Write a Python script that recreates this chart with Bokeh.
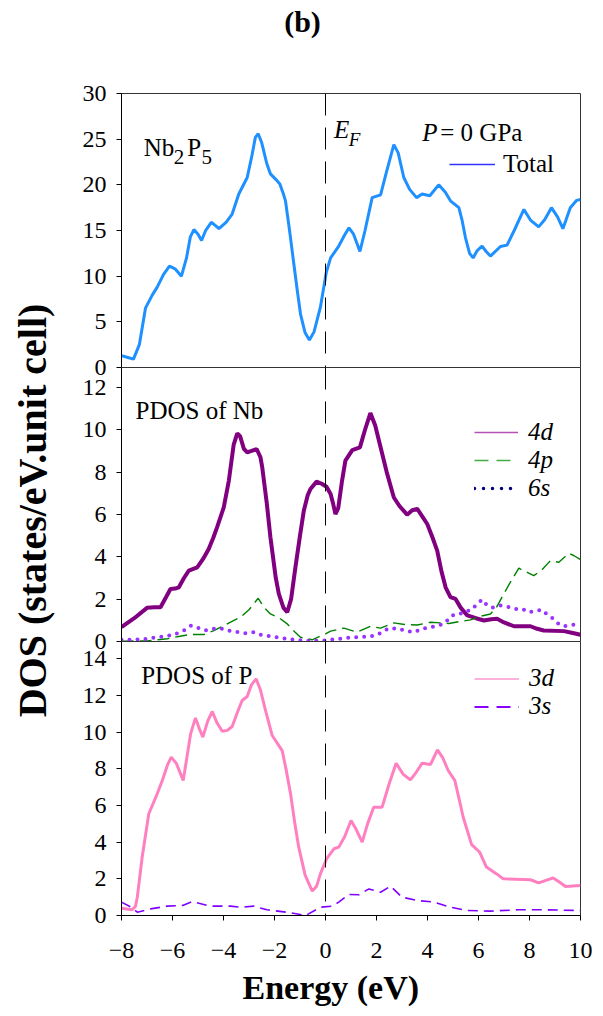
from math import pi
from bokeh.plotting import figure
from bokeh.models import Range1d, Span, Label, Legend, LegendItem, Title, FixedTicker
from bokeh.layouts import column, row
from bokeh.embed import file_html
from bokeh.resources import INLINE

FONT = "'Liberation Serif', 'Times New Roman', serif"
NAN = float("nan")

# ---------------- data ----------------
x_ticks = [-8, -6, -4, -2, 0, 2, 4, 6, 8, 10]
total_ticks = [0, 5, 10, 15, 20, 25, 30]
nb_ticks = [0, 2, 4, 6, 8, 10, 12]
p_ticks = [0, 2, 4, 6, 8, 10, 12, 14]

e_total = [-8.0, -7.75, -7.53, -7.3, -7.06, -6.8, -6.6, -6.35, -6.12, -5.9, -5.65, -5.45, -5.3, -5.16,
           -5.0, -4.86, -4.7, -4.48, -4.3, -4.18, -3.9, -3.66, -3.4, -3.07, -2.9, -2.75, -2.64, -2.5,
           -2.3, -2.16, -1.95, -1.79, -1.65, -1.57, -1.4, -1.24, -1.1, -0.98, -0.8, -0.63, -0.45, -0.2,
           0.03, 0.2, 0.52, 0.75, 0.92, 1.1, 1.35, 1.55, 1.83, 2.16, 2.4, 2.68, 2.85, 3.07, 3.3, 3.57,
           3.79, 4.09, 4.44, 4.7, 4.9, 5.23, 5.35, 5.49, 5.65, 5.79, 5.95, 6.14, 6.3, 6.47, 6.86, 7.12,
           7.4, 7.78, 8.05, 8.36, 8.6, 8.86, 9.1, 9.31, 9.6, 9.85, 10.0]
dos_total = [1.3, 1.1, 0.92, 2.5, 6.5, 7.9, 8.8, 10.2, 11.1, 10.8, 10.0, 12.0, 14.3, 15.1,
             14.6, 13.9, 15.0, 15.9, 15.5, 15.2, 15.9, 16.8, 19.0, 20.8, 23.0, 25.2, 25.6, 24.6,
             22.3, 21.2, 20.6, 20.1, 19.0, 18.25, 14.8, 11.3, 8.3, 5.85, 3.8, 3.0, 3.9, 6.6,
             10.4, 12.0, 13.3, 14.5, 15.3, 14.6, 12.7, 15.0, 18.6, 18.9, 21.5, 24.4, 23.5, 20.8, 19.5, 18.6,
             19.0, 18.8, 20.0, 19.2, 18.25, 17.5, 16.2, 14.2, 12.5, 12.0, 12.8, 13.3, 12.7, 12.2, 13.25, 13.4,
             15.0, 17.3, 16.1, 15.4, 16.2, 17.5, 16.5, 15.2, 17.5, 18.3, 18.4]

e_4d = [-8.0, -7.5, -7.0, -6.7, -6.47, -6.25, -6.08, -5.9, -5.75, -5.55, -5.36, -5.03, -4.8, -4.58,
        -4.4, -4.25, -3.99, -3.79, -3.6, -3.46, -3.35, -3.2, -3.07, -2.9, -2.7, -2.55, -2.48, -2.3,
        -2.16, -1.95, -1.83, -1.65, -1.5, -1.35, -1.18, -1.0, -0.85, -0.7, -0.59, -0.35, -0.15, 0.04,
        0.2, 0.3, 0.39, 0.5, 0.65, 0.78, 1.05, 1.35, 1.55, 1.76, 1.95, 2.16, 2.4, 2.68, 2.9, 3.2,
        3.4, 3.6, 3.8, 3.99, 4.2, 4.38, 4.55, 4.71, 4.9, 5.1, 5.3, 5.56, 5.9, 6.21, 6.5, 6.73,
        7.0, 7.39, 8.04, 8.3, 8.56, 9.35, 9.7, 10.0]
dos_4d = [0.68, 1.1, 1.59, 1.62, 1.62, 2.1, 2.48, 2.5, 2.56, 3.0, 3.35, 3.5, 3.9, 4.37,
          4.9, 5.4, 6.33, 7.6, 9.3, 9.83, 9.7, 9.1, 8.93, 9.0, 9.09, 8.7, 8.22, 6.5,
          4.92, 3.0, 2.25, 1.6, 1.38, 2.0, 3.5, 5.0, 6.18, 6.9, 7.2, 7.55, 7.45, 7.31,
          6.97, 6.5, 6.02, 6.3, 7.6, 8.54, 9.04, 9.17, 10.0, 10.79, 10.2, 9.17, 8.0, 6.8, 6.4, 5.99,
          6.2, 6.26, 5.9, 5.55, 4.9, 4.29, 3.3, 2.56, 2.1, 2.01, 1.6, 1.23, 1.1, 0.99, 1.05, 1.07,
          0.9, 0.72, 0.72, 0.6, 0.52, 0.49, 0.4, 0.32]

e_4p = [-8.0, -7.0, -6.2, -5.7, -5.3, -4.77, -4.4, -3.99, -3.33, -3.0, -2.64, -2.4, -2.16, -1.8,
        -1.5, -1.2, -0.98, -0.52, 0.0, 0.2, 0.72, 1.24, 1.76, 2.16, 2.68, 3.1, 3.6, 4.12, 4.84,
        5.3, 5.69, 6.1, 6.47, 6.7, 6.99, 7.3, 7.58, 7.85, 8.17, 8.5, 8.82, 9.15, 9.54, 9.75, 10.0]
dos_4p = [0.02, 0.03, 0.13, 0.25, 0.33, 0.33, 0.5, 0.75, 1.15, 1.5, 2.04, 1.6, 1.3, 1.1,
          0.83, 0.45, 0.2, 0.08, 0.36, 0.49, 0.63, 0.44, 0.72, 0.63, 0.88, 0.8, 0.78, 0.91, 0.85,
          0.95, 1.02, 1.2, 1.3, 1.6, 2.25, 2.9, 3.46, 3.3, 3.11, 3.4, 3.82, 3.74, 4.17, 4.05, 3.87]

e_6s = [-8.0, -7.2, -6.6, -5.95, -5.56, -5.27, -4.97, -4.71, -4.38, -4.0, -3.73, -3.14, -2.81, -2.55,
        -1.9, -1.24, -0.59, 0.0, 0.33, 1.11, 1.76, 2.09, 2.48, 2.87, 3.14, 3.46, 3.79, 4.12, 4.38,
        4.64, 4.84, 5.03, 5.36, 5.75, 5.95, 6.14, 6.34, 6.56, 6.86, 7.12, 7.45, 7.71, 7.97, 8.23,
        8.5, 8.69, 8.89, 9.08, 9.35, 9.61, 10.0]
dos_6s = [0.08, 0.1, 0.2, 0.32, 0.52, 0.75, 0.63, 0.52, 0.6, 0.6, 0.49, 0.39, 0.44, 0.32,
          0.2, 0.08, 0.03, 0.05, 0.1, 0.2, 0.23, 0.36, 0.63, 0.6, 0.5, 0.44, 0.6, 0.67, 0.75,
          0.83, 1.07, 1.27, 1.33, 1.52, 1.78, 1.98, 1.7, 1.6, 1.7, 1.65, 1.54, 1.54, 1.38, 1.45,
          1.49, 1.27, 1.11, 0.88, 0.72, 0.78, 0.8]

e_3d = [-8.0, -7.58, -7.45, -7.38, -7.19, -6.93, -6.6, -6.4, -6.2, -6.05, -5.85, -5.58, -5.45, -5.29,
        -5.1, -4.95, -4.81, -4.62, -4.44, -4.25, -4.05, -3.85, -3.66, -3.45, -3.27, -3.07, -2.9, -2.72,
        -2.55, -2.35, -2.09, -1.7, -1.55, -1.37, -1.2, -1.05, -0.8, -0.52, -0.35, -0.2, 0.04, 0.33,
        0.52, 0.75, 1.0, 1.2, 1.44, 1.65, 1.89, 2.22, 2.5, 2.77, 3.05, 3.33, 3.55, 3.79, 4.12, 4.39,
        4.6, 4.81, 5.07, 5.25, 5.4, 5.73, 6.05, 6.31, 6.71, 6.97, 8.04, 8.36, 8.93, 9.2, 9.41, 10.0]
dos_3d = [0.4, 0.31, 0.5, 1.0, 3.18, 5.55, 6.64, 7.37, 8.2, 8.64, 8.3, 7.37, 8.5, 9.91,
          10.78, 10.2, 9.73, 10.6, 11.13, 10.5, 10.05, 10.1, 10.31, 11.1, 11.73, 11.95, 12.6, 12.91,
          12.3, 11.18, 9.82, 9.0, 8.0, 6.64, 5.0, 3.73, 2.2, 1.33, 1.6, 2.27, 3.09, 3.64,
          3.73, 4.3, 5.18, 4.7, 4.0, 5.0, 5.91, 5.91, 7.2, 8.31, 7.7, 7.4, 7.8, 8.31, 8.24, 9.04,
          8.6, 7.91, 7.37, 6.3, 5.36, 3.87, 3.45, 2.64, 2.27, 2.0, 1.95, 1.78, 2.05, 1.8, 1.58, 1.64]

e_3s = [-8.0, -7.62, -7.38, -6.86, -6.21, -5.6, -5.23, -4.51, -3.73, -3.33, -2.81, -2.29, -1.37, -0.78,
        -0.2, 0.26, 0.52, 0.91, 1.31, 1.7, 2.16, 2.55, 3.0, 3.6, 4.25, 4.9, 5.56, 6.47, 7.52, 8.69, 10.0]
dos_3s = [0.73, 0.45, 0.18, 0.36, 0.51, 0.55, 0.76, 0.51, 0.51, 0.45, 0.51, 0.31, 0.15, 0.0,
          0.45, 0.51, 0.73, 1.15, 1.13, 1.45, 1.27, 1.6, 1.0, 0.82, 0.73, 0.45, 0.27, 0.24, 0.31, 0.31, 0.27]

# ---------------- layout constants ----------------
W = 524
LEFT = 53
RIGHT = 12
B = 14
YL_W = 68
TITLE_H = 53
BOTTOM = 100


def panel(height, ymax, yticks, top, bottom, mtop):
    p = figure(width=W, height=height, x_range=Range1d(-8, 10), y_range=Range1d(0, ymax),
               output_backend="svg", toolbar_location=None,
               min_border_left=LEFT, min_border_right=RIGHT,
               min_border_top=top, min_border_bottom=bottom, margin=(mtop, 0, 0, 0))
    p.grid.visible = False
    p.border_fill_color = None
    p.background_fill_color = "white"
    p.outline_line_color = "#333333"
    p.outline_line_width = 1
    ax = p.yaxis[0]
    ax.ticker = FixedTicker(ticks=yticks)
    ax.major_label_text_font = FONT
    ax.major_label_text_font_size = "24px"
    ax.major_label_text_color = "black"
    ax.major_tick_out = 5
    ax.major_tick_in = 0
    ax.minor_tick_out = 0
    ax.minor_tick_in = 0
    ax.axis_line_color = "black"
    ax.major_tick_line_color = "black"
    ax.major_label_standoff = 10
    p.add_layout(Span(location=0, dimension="height", line_color="black",
                      line_dash="22 12", line_width=1))
    return p


def add_legend(p, items, loc, gw, gh, standoff, italic):
    leg = Legend(items=items, location=loc, orientation="vertical",
                 glyph_width=gw, glyph_height=gh, label_height=gh, label_standoff=standoff,
                 padding=0, margin=0, spacing=0, border_line_color=None,
                 background_fill_alpha=0, label_text_font=FONT, label_text_font_size="25px",
                 label_text_font_style="italic" if italic else "normal",
                 label_text_color="black")
    p.add_layout(leg)


def txt(p, x, y, text, size="25px", style="normal"):
    p.add_layout(Label(x=x, y=y, text=text, text_font=FONT, text_font_size=size,
                       text_font_style=style, text_baseline="alphabetic", text_align="left",
                       text_color="black"))


# ---- top panel: total DOS ----
p1 = panel(40 + 274 + B, 30, total_ticks, 40, B, 0)
p1.xaxis.visible = False
p1.line(e_total, dos_total, line_color="#1E90FF", line_width=3)
lt = p1.line([NAN], [NAN], line_color="#3333ff", line_width=1.5)
add_legend(p1, [LegendItem(label="Total", renderers=[lt])], (328, 189), 46, 28, 8, False)
txt(p1, -7.13, 24.1, "Nb")
txt(p1, -5.95, 23.0, "2", size="21px")
txt(p1, -5.42, 24.1, "P")
txt(p1, -4.86, 23.0, "5", size="21px")
txt(p1, 0.33, 26.1, "E", style="italic")
txt(p1, 0.91, 25.0, "F", size="19px", style="italic")
txt(p1, 3.79, 25.7, "P", style="italic")
txt(p1, 4.5, 25.7, "= 0 GPa")

# ---- middle panel: PDOS of Nb ----
p2 = panel(B + 274 + B, 12.94, nb_ticks, B, B, -2 * B)
p2.xaxis.visible = False
p2.line(e_4d, dos_4d, line_color="#800080", line_width=4)
p2.line(e_4p, dos_4p, line_color="#008000", line_width=1.4, line_dash="12 6")
p2.line(e_6s, dos_6s, line_color="#9933ff", line_width=4, line_dash="0 8", line_cap="round")
l4d = p2.line([NAN], [NAN], line_color="#b452b4", line_width=1.5)
l4p = p2.line([NAN], [NAN], line_color="#44aa44", line_width=1.5, line_dash="14 8")
l6s = p2.line([NAN], [NAN], line_color="#000080", line_width=3.5, line_dash="0 9", line_cap="round")
add_legend(p2, [LegendItem(label="4d", renderers=[l4d]),
                LegendItem(label="4p", renderers=[l4p]),
                LegendItem(label="6s", renderers=[l6s])], (353, 139), 44, 28, 10, True)
txt(p2, -7.45, 10.9, "PDOS of Nb")

# ---- bottom panel: PDOS of P ----
p3 = panel(B + 274 + BOTTOM, 14.95, p_ticks, B, BOTTOM, -2 * B)
p3.line(e_3d, dos_3d, line_color="#ff80c0", line_width=3)
p3.line(e_3s, dos_3s, line_color="#8000ff", line_width=1.6, line_dash="10 6")
l3d = p3.line([NAN], [NAN], line_color="#ff99cc", line_width=1.5)
l3s = p3.line([NAN], [NAN], line_color="#8800ff", line_width=1.8, line_dash="14 8")
add_legend(p3, [LegendItem(label="3d", renderers=[l3d]),
                LegendItem(label="3s", renderers=[l3s])], (353, 195), 45, 27, 10, True)
txt(p3, -7.23, 13.09, "PDOS of P")
xa = p3.xaxis[0]
xa.ticker = FixedTicker(ticks=x_ticks)
xa.major_label_text_font = FONT
xa.major_label_text_font_size = "24px"
xa.major_label_text_color = "black"
xa.major_tick_out = 5
xa.major_tick_in = 0
xa.minor_tick_out = 0
xa.minor_tick_in = 0
xa.axis_line_color = "black"
xa.major_label_standoff = 22
p3.add_layout(Title(text="Energy (eV)", align="left", offset=121, text_font=FONT,
                    text_font_size="34px", text_font_style="bold", text_color="black",
                    standoff=12), "below")

# ---- y label strip ----
H_COL = (40 + 274 + B) + (B + 274 + B - 2 * B) + (B + 274 + BOTTOM - 2 * B)
yl = figure(width=YL_W, height=H_COL, x_range=Range1d(0, YL_W), y_range=Range1d(0, H_COL),
            output_backend="svg", toolbar_location=None, min_border=0)
yl.axis.visible = False
yl.grid.visible = False
yl.outline_line_color = None
yl.border_fill_color = None
yl.add_layout(Label(x=32, y=H_COL - (510 - TITLE_H), text="DOS (states/eV.unit cell)",
                    angle=pi / 2, text_align="center", text_baseline="middle", text_font=FONT,
                    text_font_size="40px", text_font_style="bold", text_color="black"))

# ---- title strip ----
tf = figure(width=YL_W + W, height=TITLE_H, x_range=Range1d(0, YL_W + W),
            y_range=Range1d(0, TITLE_H), output_backend="svg", toolbar_location=None,
            min_border=0)
tf.axis.visible = False
tf.grid.visible = False
tf.outline_line_color = None
tf.add_layout(Label(x=302, y=TITLE_H - 21, text="(b)", text_align="center",
                    text_baseline="middle", text_font=FONT, text_font_size="30px",
                    text_font_style="bold", text_color="black"))

layout = column(tf, row(yl, column(p1, p2, p3)))
open("out.html", "w").write(file_html(layout, INLINE))
